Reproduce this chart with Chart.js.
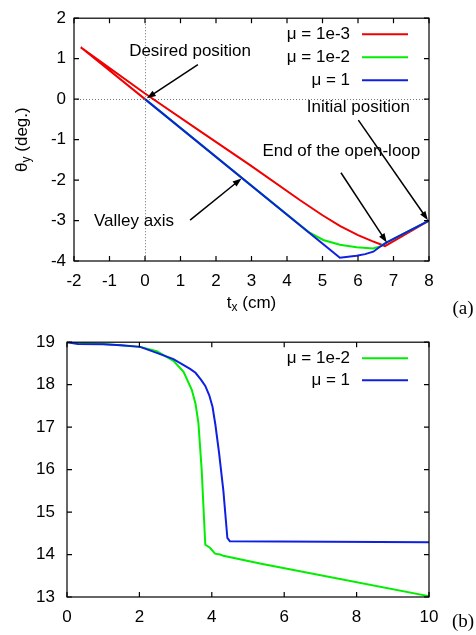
<!DOCTYPE html>
<html>
<head>
<meta charset="utf-8">
<script src="https://cdn.jsdelivr.net/npm/chart.js@4.4.1/dist/chart.umd.min.js"></script>
<style>
  html, body { margin: 0; padding: 0; background: #fff; overflow: hidden; }
  canvas { position: absolute; left: 0; }
  #chartA { top: 0; }
  #chartB { top: 320px; }
</style>
</head>
<body>
<canvas id="chartA" width="476" height="320"></canvas>
<canvas id="chartB" width="476" height="315"></canvas>
<script>
// (a) trajektorie v rovině t_x / theta_y
const aRedX   = [8, 6.76, 6.4, 6.0, 5.5, 5.0, 4.37, 2.96, 1.55, 0, -1.81, 0];
const aRedY   = [-3.0, -3.63, -3.51, -3.36, -3.14, -2.87, -2.5, -1.63, -0.79, 0.14, 1.28, 0];
const aGreenX = [8, 6.81, 6.62, 6.43, 5.96, 5.49, 5.02, 4.6, 0];
const aGreenY = [-3.0, -3.54, -3.64, -3.69, -3.66, -3.6, -3.48, -3.28, 0];
const aBlueX  = [8, 6.81, 6.6, 6.43, 6.2, 5.96, 5.49, 0];
const aBlueY  = [-3.0, -3.54, -3.66, -3.77, -3.83, -3.87, -3.92, 0];
const aXTicks = [-2, -1, 0, 1, 2, 3, 4, 5, 6, 7, 8];
const aYTicks = [-4, -3, -2, -1, 0, 1, 2];

// (b) průběh v čase
const bGreenT = [0, 1, 2.02, 2.48, 2.94, 3.22, 3.45, 3.55, 3.63, 3.72, 3.82, 3.95, 4.09, 4.23, 4.32, 5.33, 10];
const bGreenV = [19, 18.96, 18.89, 18.79, 18.56, 18.3, 17.87, 17.55, 17.1, 16.0, 14.23, 14.16, 14.02, 14.0, 13.97, 13.79, 13.02];
const bBlueT  = [0, 0.3, 1, 1.5, 2.02, 2.48, 2.94, 3.4, 3.55, 3.7, 3.82, 3.93, 4.02, 4.1, 4.2, 4.32, 4.43, 4.5, 10];
const bBlueV  = [19, 18.96, 18.95, 18.93, 18.89, 18.75, 18.6, 18.37, 18.28, 18.12, 17.97, 17.75, 17.48, 17.05, 16.4, 15.5, 14.39, 14.31, 14.29];
const bXTicks = [0, 2, 4, 6, 8, 10];
const bYTicks = [13, 14, 15, 16, 17, 18, 19];

const FONT = "'Liberation Sans', Arial, Helvetica, sans-serif";
const RED = '#f00000', GREEN = '#00ee00', BLUE = '#1020e0';

function pts(xs, ys) {
    return xs.map((x, i) => ({ x: x, y: ys[i] }));
}

// order: vyšší číslo se kreslí dřív (modrá má být navrchu)
function line(label, xs, ys, color, order) {
    return {
        label: label,
        data: pts(xs, ys),
        borderColor: color,
        backgroundColor: color,
        borderWidth: 2,
        pointRadius: 0,
        showLine: true,
        tension: 0,
        order: order
    };
}

function drawArrow(ctx, x1, y1, x2, y2) {
    const ang = Math.atan2(y2 - y1, x2 - x1);
    const len = 9, half = 3.2;
    ctx.beginPath();
    ctx.moveTo(x1, y1);
    ctx.lineTo(x2 - Math.cos(ang) * len * 0.8, y2 - Math.sin(ang) * len * 0.8);
    ctx.stroke();
    ctx.beginPath();
    ctx.moveTo(x2, y2);
    ctx.lineTo(x2 - Math.cos(ang) * len - Math.sin(ang) * half, y2 - Math.sin(ang) * len + Math.cos(ang) * half);
    ctx.lineTo(x2 - Math.cos(ang) * len + Math.sin(ang) * half, y2 - Math.sin(ang) * len - Math.cos(ang) * half);
    ctx.closePath();
    ctx.fill();
}

// text se spodním indexem (t_x, theta_y)
function subText(ctx, parts, x, y) {
    let w = 0;
    parts.forEach(p => { ctx.font = (p.sub ? 12 : 17) + 'px ' + FONT; w += ctx.measureText(p.t).width; });
    let cx = x - w / 2;
    ctx.textAlign = 'left';
    parts.forEach(p => {
        ctx.font = (p.sub ? 12 : 17) + 'px ' + FONT;
        ctx.fillText(p.t, cx, p.sub ? y + 5 : y);
        cx += ctx.measureText(p.t).width;
    });
}

const framePlugin = {
    id: 'frame',
    beforeDatasetsDraw(chart, args, opts) {
        if (!opts.zeroLines) return;
        const { ctx, chartArea: a, scales: { x, y } } = chart;
        const px = Math.round(x.getPixelForValue(0)) + 0.5;
        const py = Math.round(y.getPixelForValue(0)) + 0.5;
        ctx.save();
        ctx.strokeStyle = '#777';
        ctx.lineWidth = 1;
        ctx.setLineDash([1, 2]);
        ctx.beginPath();
        ctx.moveTo(px, a.top); ctx.lineTo(px, a.bottom);
        ctx.moveTo(a.left, py); ctx.lineTo(a.right, py);
        ctx.stroke();
        ctx.restore();
    },
    afterDraw(chart, args, opts) {
        const { ctx, chartArea: a, scales: { x, y } } = chart;
        ctx.save();
        ctx.strokeStyle = '#000';
        ctx.fillStyle = '#000';
        ctx.lineWidth = 1.2;
        ctx.strokeRect(a.left, a.top, a.right - a.left, a.bottom - a.top);

        // vnitřní značky na všech čtyřech stranách
        ctx.beginPath();
        x.ticks.forEach(t => {
            const px = x.getPixelForValue(t.value);
            ctx.moveTo(px, a.bottom); ctx.lineTo(px, a.bottom - 5);
            ctx.moveTo(px, a.top); ctx.lineTo(px, a.top + 5);
        });
        y.ticks.forEach(t => {
            const py = y.getPixelForValue(t.value);
            ctx.moveTo(a.left, py); ctx.lineTo(a.left + 5, py);
            ctx.moveTo(a.right, py); ctx.lineTo(a.right - 5, py);
        });
        ctx.stroke();

        // popisky s šipkami
        ctx.font = '17px ' + FONT;
        ctx.textAlign = 'center';
        ctx.textBaseline = 'middle';
        ctx.lineWidth = 1.5;
        (opts.notes || []).forEach(n => {
            ctx.fillText(n.text, x.getPixelForValue(n.at[0]), y.getPixelForValue(n.at[1]));
            drawArrow(ctx,
                x.getPixelForValue(n.from[0]), y.getPixelForValue(n.from[1]),
                x.getPixelForValue(n.to[0]), y.getPixelForValue(n.to[1]));
        });

        // legenda ve stylu gnuplotu: text vpravo zarovnaný, pak čára
        const lg = opts.legend;
        chart.data.datasets.forEach((ds, i) => {
            const ly = a.top + lg.top + i * lg.step;
            ctx.font = '17px ' + FONT;
            ctx.textAlign = 'right';
            ctx.fillStyle = '#000';
            ctx.fillText(ds.label, lg.textRight, ly);
            ctx.strokeStyle = ds.borderColor;
            ctx.lineWidth = 2;
            ctx.beginPath();
            ctx.moveTo(lg.lineFrom, ly); ctx.lineTo(lg.lineTo, ly);
            ctx.stroke();
        });

        // názvy os
        ctx.fillStyle = '#000';
        ctx.textBaseline = 'middle';
        if (opts.xTitle) {
            subText(ctx, opts.xTitle, (a.left + a.right) / 2, a.bottom + 42);
        }
        if (opts.yTitle) {
            ctx.save();
            ctx.translate(22, (a.top + a.bottom) / 2);
            ctx.rotate(-Math.PI / 2);
            subText(ctx, opts.yTitle, 0, 0);
            ctx.restore();
        }

        // označení panelu
        ctx.font = '19px "Liberation Serif", "Times New Roman", serif';
        ctx.textAlign = 'center';
        ctx.fillText(opts.panel, a.right + 34, a.bottom + opts.panelDy);
        ctx.restore();
    }
};

function makeChart(id, datasets, cfg) {
    return new Chart(document.getElementById(id), {
        type: 'scatter',
        data: { datasets: datasets },
        plugins: [framePlugin],
        options: {
            responsive: false,
            animation: false,
            layout: { padding: { left: 0, top: cfg.top, right: cfg.right, bottom: 0 } },
            scales: {
                x: {
                    type: 'linear',
                    min: cfg.xTicks[0],
                    max: cfg.xTicks[cfg.xTicks.length - 1],
                    afterBuildTicks: s => { s.ticks = cfg.xTicks.map(v => ({ value: v })); },
                    afterFit: s => { s.height = cfg.xHeight; },
                    grid: { display: false, drawTicks: false },
                    border: { display: false },
                    ticks: { color: '#000', padding: cfg.xPad, font: { family: FONT, size: 17 } }
                },
                y: {
                    type: 'linear',
                    min: cfg.yTicks[0],
                    max: cfg.yTicks[cfg.yTicks.length - 1],
                    afterBuildTicks: s => { s.ticks = cfg.yTicks.map(v => ({ value: v })); },
                    afterFit: s => { s.width = cfg.yWidth; },
                    grid: { display: false, drawTicks: false },
                    border: { display: false },
                    ticks: { color: '#000', padding: cfg.yPad, font: { family: FONT, size: 17 } }
                }
            },
            plugins: {
                legend: { display: false },
                tooltip: { enabled: false },
                frame: cfg.frame
            }
        }
    });
}

makeChart('chartA', [
    line('\u03bc = 1e-3', aRedX, aRedY, RED, 2),
    line('\u03bc = 1e-2', aGreenX, aGreenY, GREEN, 1),
    line('\u03bc = 1', aBlueX, aBlueY, BLUE, 0)
], {
    top: 17, right: 47, xHeight: 59, yWidth: 74, xPad: 10, yPad: 8,
    xTicks: aXTicks, yTicks: aYTicks,
    frame: {
        zeroLines: true,
        legend: { top: 16, step: 23, textRight: 350, lineFrom: 362, lineTo: 408 },
        notes: [
            { text: 'Desired position', at: [1.27, 1.18], from: [1.49, 0.85], to: [0.05, 0.02] },
            { text: 'Valley axis', at: [-0.31, -3.01], from: [1.27, -2.99], to: [2.72, -1.96] },
            { text: 'Initial position', at: [6.01, -0.21], from: [6.01, -0.52], to: [7.97, -2.99] },
            { text: 'End of the open-loop', at: [5.53, -1.28], from: [5.52, -1.82], to: [6.81, -3.54] }
        ],
        xTitle: [{ t: 't' }, { t: 'x', sub: true }, { t: ' (cm)' }],
        yTitle: [{ t: '\u03b8' }, { t: 'y', sub: true }, { t: ' (deg.)' }],
        panel: '(a)', panelDy: 48
    }
});

makeChart('chartB', [
    line('\u03bc = 1e-2', bGreenT, bGreenV, GREEN, 1),
    line('\u03bc = 1', bBlueT, bBlueV, BLUE, 0)
], {
    top: 16, right: 47, xHeight: 38, yWidth: 67, xPad: 10, yPad: 12,
    xTicks: bXTicks, yTicks: bYTicks,
    frame: {
        zeroLines: false,
        legend: { top: 16, step: 22, textRight: 350, lineFrom: 362, lineTo: 408 },
        notes: [],
        panel: '(b)', panelDy: 25
    }
});
</script>
</body>
</html>
